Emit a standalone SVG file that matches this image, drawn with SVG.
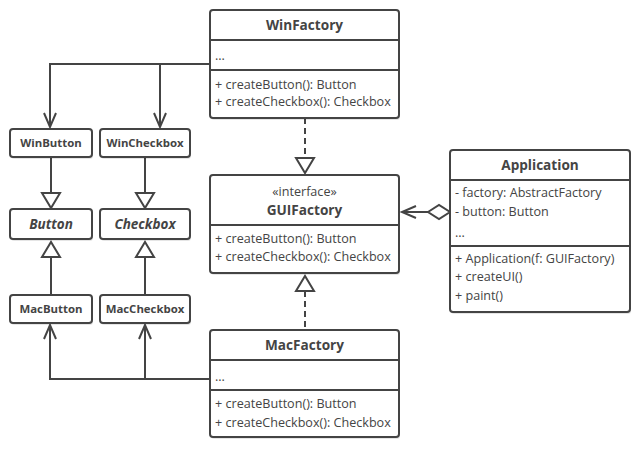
<svg xmlns="http://www.w3.org/2000/svg" width="640" height="450" viewBox="0 0 640 450">
<style>
.box{fill:#fff;stroke:#444;stroke-width:2}
.sh{fill:#000;opacity:0.1}
.sep{stroke:#444;stroke-width:2}
.t{font-family:"Open Sans","Noto Sans",sans-serif;font-size:12.6px;fill:#444}
.title{font-family:"Open Sans","Noto Sans",sans-serif;font-size:13.6px;font-weight:bold;fill:#444;text-anchor:middle}
.small{font-family:"Open Sans","Noto Sans",sans-serif;font-size:11.4px;font-weight:bold;fill:#444;text-anchor:middle}
.abs{font-style:italic;font-size:13.5px}
.c{text-anchor:middle}
.ln{fill:none;stroke:#444;stroke-width:2}
.dash{stroke-dasharray:6,4}
.tri{fill:#fff;stroke:#444;stroke-width:2;stroke-linejoin:miter}
</style>
<g id="connectors">
  <path class="ln" d="M210,64 H50 V127 M160,64 V127"/>
  <path class="ln" d="M44,113 L50,127 L56,113 M154,113 L160,127 L166,113"/>
  <path class="ln" d="M210,379 H50 V325 M145,379 V325"/>
  <path class="ln" d="M44,339 L50,325 L56,339 M139,339 L145,325 L151,339"/>
  <path class="ln" d="M51,157 V193 M145,157 V193"/>
  <polygon class="tri" points="42,193 60,193 51,208"/>
  <polygon class="tri" points="136,193 154,193 145,208"/>
  <path class="ln" d="M51,257 V295 M145,257 V295"/>
  <polygon class="tri" points="42,257 60,257 51,242"/>
  <polygon class="tri" points="136,257 154,257 145,242"/>
  <path class="ln dash" d="M305,118 V158"/>
  <polygon class="tri" points="296,158 314,158 305,173"/>
  <path class="ln dash" d="M305,291 V330"/>
  <polygon class="tri" points="296,291 314,291 305,276"/>
  <path class="ln" d="M402,212 H428"/>
  <path class="ln" d="M416,206 L402,212 L416,218"/>
  <polygon class="tri" points="428,212 439,205 450,212 439,219"/>
</g>
<g id="WinFactory">
  <rect class="sh" x="211" y="12" width="189" height="108" rx="3"/>
  <rect class="box" x="210" y="10" width="189" height="108" rx="3"/>
  <line class="sep" x1="210" y1="40" x2="399" y2="40"/>
  <line class="sep" x1="210" y1="70" x2="399" y2="70"/>
  <text class="title" x="304.5" y="30">WinFactory</text>
  <text class="t" x="215" y="60">...</text>
  <text class="t" x="215" y="89">+ createButton(): Button</text>
  <text class="t" x="215" y="106">+ createCheckbox(): Checkbox</text>
</g>
<g id="GUIFactory">
  <rect class="sh" x="211" y="177" width="189" height="98" rx="3"/>
  <rect class="box" x="210" y="175" width="189" height="98" rx="3"/>
  <line class="sep" x1="210" y1="225" x2="399" y2="225"/>
  <text class="t c" x="304.5" y="196">«interface»</text>
  <text class="title" x="304.5" y="215">GUIFactory</text>
  <text class="t" x="215" y="243">+ createButton(): Button</text>
  <text class="t" x="215" y="261">+ createCheckbox(): Checkbox</text>
</g>
<g id="MacFactory">
  <rect class="sh" x="211" y="332" width="189" height="107" rx="3"/>
  <rect class="box" x="210" y="330" width="189" height="107" rx="3"/>
  <line class="sep" x1="210" y1="360" x2="399" y2="360"/>
  <line class="sep" x1="210" y1="390" x2="399" y2="390"/>
  <text class="title" x="304.5" y="350">MacFactory</text>
  <text class="t" x="215" y="381">...</text>
  <text class="t" x="215" y="408">+ createButton(): Button</text>
  <text class="t" x="215" y="427">+ createCheckbox(): Checkbox</text>
</g>
<g id="Application">
  <rect class="sh" x="451" y="152" width="180" height="162" rx="3"/>
  <rect class="box" x="450" y="150" width="180" height="162" rx="3"/>
  <line class="sep" x1="450" y1="180" x2="630" y2="180"/>
  <line class="sep" x1="450" y1="246" x2="630" y2="246"/>
  <text class="title" x="540" y="170">Application</text>
  <text class="t" x="455" y="197">- factory: AbstractFactory</text>
  <text class="t" x="455" y="216">- button: Button</text>
  <text class="t" x="455" y="237">...</text>
  <text class="t" x="455" y="263">+ Application(f: GUIFactory)</text>
  <text class="t" x="455" y="281">+ createUI()</text>
  <text class="t" x="455" y="300">+ paint()</text>
</g>
<g id="WinButton">
  <rect class="sh" x="11" y="131" width="82" height="28" rx="3"/>
  <rect class="box" x="10" y="129" width="82" height="28" rx="3"/>
  <text class="small" x="51" y="147">WinButton</text>
</g>
<g id="WinCheckbox">
  <rect class="sh" x="101" y="131" width="90" height="28" rx="3"/>
  <rect class="box" x="100" y="129" width="90" height="28" rx="3"/>
  <text class="small" x="145" y="147">WinCheckbox</text>
</g>
<g id="Button">
  <rect class="sh" x="11" y="211" width="82" height="30" rx="3"/>
  <rect class="box" x="10" y="209" width="82" height="30" rx="3"/>
  <text class="small abs" x="51" y="229">Button</text>
</g>
<g id="Checkbox">
  <rect class="sh" x="101" y="211" width="90" height="30" rx="3"/>
  <rect class="box" x="100" y="209" width="90" height="30" rx="3"/>
  <text class="small abs" x="145" y="229">Checkbox</text>
</g>
<g id="MacButton">
  <rect class="sh" x="11" y="297" width="82" height="28" rx="3"/>
  <rect class="box" x="10" y="295" width="82" height="28" rx="3"/>
  <text class="small" x="51" y="313">MacButton</text>
</g>
<g id="MacCheckbox">
  <rect class="sh" x="101" y="297" width="90" height="28" rx="3"/>
  <rect class="box" x="100" y="295" width="90" height="28" rx="3"/>
  <text class="small" x="145" y="313">MacCheckbox</text>
</g>
</svg>
